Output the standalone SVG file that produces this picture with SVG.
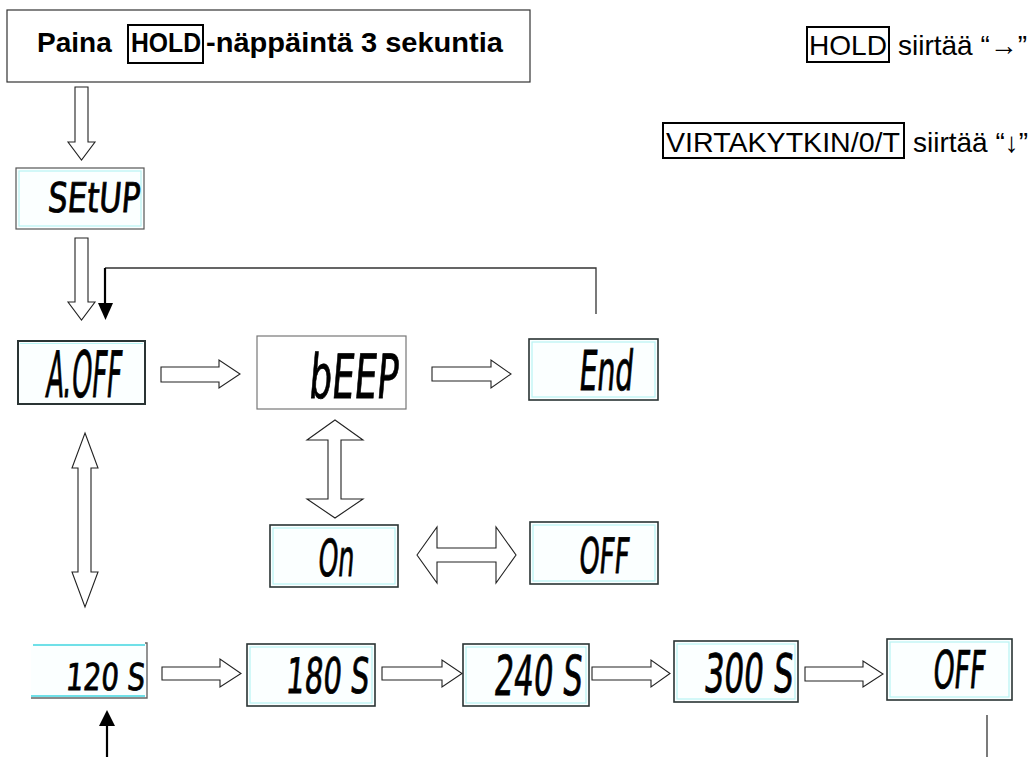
<svg xmlns="http://www.w3.org/2000/svg" width="1035" height="757" viewBox="0 0 1035 757">
<style>
.bg{fill:#ffffff}
.title{font-family:"Liberation Sans",Arial,sans-serif;font-size:28px;font-weight:bold;fill:#000}
.note{font-family:"Liberation Sans",Arial,sans-serif;font-size:28px;fill:#000}
.key{fill:none;stroke:#000;stroke-width:2}
.frame{fill:#fff;stroke:#333;stroke-width:1.2}
.lcd{fill:#fbffff;stroke:#2a3434;stroke-width:1.6}
.lcdin{fill:none;stroke:#b8f4f4;stroke-width:1.2}
.lcdt{font-family:"DejaVu Sans Condensed","DejaVu Sans",sans-serif;font-weight:normal;fill:#000;stroke:#000;stroke-width:0.8}
.blk{fill:#fff;stroke:#222;stroke-width:1.1;stroke-linejoin:miter}
.ln{fill:none;stroke:#333;stroke-width:1.3}
.bk{fill:none;stroke:#000;stroke-width:2.2}
.bkh{fill:#000;stroke:none}
</style>
<rect class="bg" x="0" y="0" width="1035" height="757"/>

<g id="title">
<rect class="frame" x="7" y="10" width="523" height="72"/>
<text class="title" x="37" y="52">Paina</text>
<rect class="key" x="128" y="25" width="75" height="38"/>
<text class="title" x="131" y="52" textLength="70" lengthAdjust="spacingAndGlyphs">HOLD</text>
<text class="title" x="206" y="52" textLength="297" lengthAdjust="spacingAndGlyphs">-näppäintä 3 sekuntia</text>
</g>

<g id="legend">
<rect class="key" x="807" y="27" width="82" height="35"/>
<text class="note" x="809" y="55" textLength="78" lengthAdjust="spacingAndGlyphs">HOLD</text>
<text class="note" x="898" y="55">siirtää “→”</text>
<rect class="key" x="663" y="123" width="241" height="35"/>
<text class="note" x="666" y="152" textLength="234" lengthAdjust="spacingAndGlyphs">VIRTAKYTKIN/0/T</text>
<text class="note" x="913" y="152">siirtää “↓”</text>
</g>

<g id="setup">
<rect class="lcd" x="16" y="168" width="128" height="61" style="stroke:#555;stroke-width:1.2"/>
<rect class="lcdin" x="19" y="171" width="122" height="55"/>
<text class="lcdt" transform="translate(47,212) skewX(-5)" font-size="41" textLength="92" lengthAdjust="spacingAndGlyphs">SEtUP</text>
</g>

<g id="aoff">
<rect class="lcd" x="18" y="341" width="127" height="63" style="stroke-width:2"/>
<line class="lcdin" x1="20" y1="343.5" x2="143" y2="343.5"/>
<text class="lcdt" transform="translate(45,397) skewX(-5)" font-size="64" textLength="75" lengthAdjust="spacingAndGlyphs">A.OFF</text>
</g>

<g id="beep">
<rect class="frame" x="257" y="336" width="149" height="73" style="stroke:#777"/>
<text class="lcdt" transform="translate(308,398) skewX(-5)" font-size="61" textLength="89" lengthAdjust="spacingAndGlyphs">bEEP</text>
</g>

<g id="end">
<rect class="lcd" x="529" y="339" width="129" height="61"/>
<rect class="lcdin" x="532" y="342" width="123" height="55"/>
<text class="lcdt" transform="translate(578,390) skewX(-5)" font-size="55" textLength="54" lengthAdjust="spacingAndGlyphs">End</text>
</g>

<g id="on">
<rect class="lcd" x="270" y="525" width="128" height="62"/>
<rect class="lcdin" x="273" y="528" width="122" height="56"/>
<text class="lcdt" transform="translate(317,576) skewX(-5)" font-size="51" textLength="36" lengthAdjust="spacingAndGlyphs">On</text>
</g>

<g id="off-beep">
<rect class="lcd" x="530" y="522" width="128" height="62"/>
<rect class="lcdin" x="533" y="525" width="122" height="56"/>
<text class="lcdt" transform="translate(578,573) skewX(-5)" font-size="49" textLength="50" lengthAdjust="spacingAndGlyphs">OFF</text>
</g>

<g id="t120">
<rect x="31" y="643" width="116" height="55" fill="#fbffff"/>
<line x1="33" y1="645" x2="145" y2="645" stroke="#6fe0e8" stroke-width="2"/>
<line x1="31" y1="696" x2="145" y2="696" stroke="#6fe0e8" stroke-width="2"/>
<polyline points="145,643 147,643 147,698 31,698" fill="none" stroke="#666" stroke-width="1.4"/>
<text class="lcdt" transform="translate(65,690) skewX(-5)" font-size="37" textLength="79" lengthAdjust="spacingAndGlyphs">120 S</text>
</g>

<g id="t180">
<rect class="lcd" x="247" y="644" width="128" height="62"/>
<rect class="lcdin" x="250" y="647" width="122" height="56"/>
<text class="lcdt" transform="translate(285,693) skewX(-5)" font-size="49" textLength="83" lengthAdjust="spacingAndGlyphs">180 S</text>
</g>

<g id="t240">
<rect class="lcd" x="463" y="644" width="126" height="62"/>
<rect class="lcdin" x="466" y="647" width="120" height="56"/>
<text class="lcdt" transform="translate(493,695) skewX(-5)" font-size="55" textLength="88" lengthAdjust="spacingAndGlyphs">240 S</text>
</g>

<g id="t300">
<rect class="lcd" x="674" y="641" width="124" height="61"/>
<rect class="lcdin" x="677" y="644" width="118" height="55"/>
<text class="lcdt" transform="translate(703,692) skewX(-5)" font-size="53" textLength="89" lengthAdjust="spacingAndGlyphs">300 S</text>
</g>

<g id="off-timer">
<rect class="lcd" x="887" y="639" width="125" height="61"/>
<rect class="lcdin" x="890" y="642" width="119" height="55"/>
<text class="lcdt" transform="translate(932,688) skewX(-5)" font-size="52" textLength="52" lengthAdjust="spacingAndGlyphs">OFF</text>
</g>

<g id="connectors">
<polygon class="blk" points="75,87 88,87 88,142 95,142 81.5,160 68,142 75,142"/>
<polygon class="blk" points="75,238 88,238 88,302 95,302 81.5,320 68,302 75,302"/>
<polyline class="ln" points="105,268 596,268 596,314"/>
<line class="bk" x1="105" y1="268" x2="105" y2="305"/>
<polygon class="bkh" points="98,303 113,303 105.5,320"/>
<polygon class="blk" points="161,367 219,367 219,360 240,374 219,388 219,382 161,382"/>
<polygon class="blk" points="432,367 491,367 491,360 511,374 491,388 491,381 432,381"/>
<polygon class="blk" points="335,420 363,440 341,440 341,499 363,499 335,518 307,499 328,499 328,440 307,440"/>
<polygon class="blk" points="417,555 437,527 437,548 496,548 496,527 516,555 496,583 496,562 437,562 437,583"/>
<polygon class="blk" points="85,433 98,468 91,468 91,572 98,572 85,607 72,572 78,572 78,468 72,468"/>
<polygon class="blk" points="162,667 220,667 220,659 241,673.5 220,687 220,680 162,680"/>
<polygon class="blk" points="382,667 442,667 442,660 462,673.5 442,687 442,680 382,680"/>
<polygon class="blk" points="592,667 651,667 651,660 670,673.5 651,687 651,680 592,680"/>
<polygon class="blk" points="805,667 863,667 863,661 883,674 863,687 863,681 805,681"/>
<line class="ln" x1="987" y1="715" x2="987" y2="757"/>
<line class="bk" x1="107" y1="724" x2="107" y2="757"/>
<polygon class="bkh" points="99,726 115,726 107,710"/>
</g>
</svg>
